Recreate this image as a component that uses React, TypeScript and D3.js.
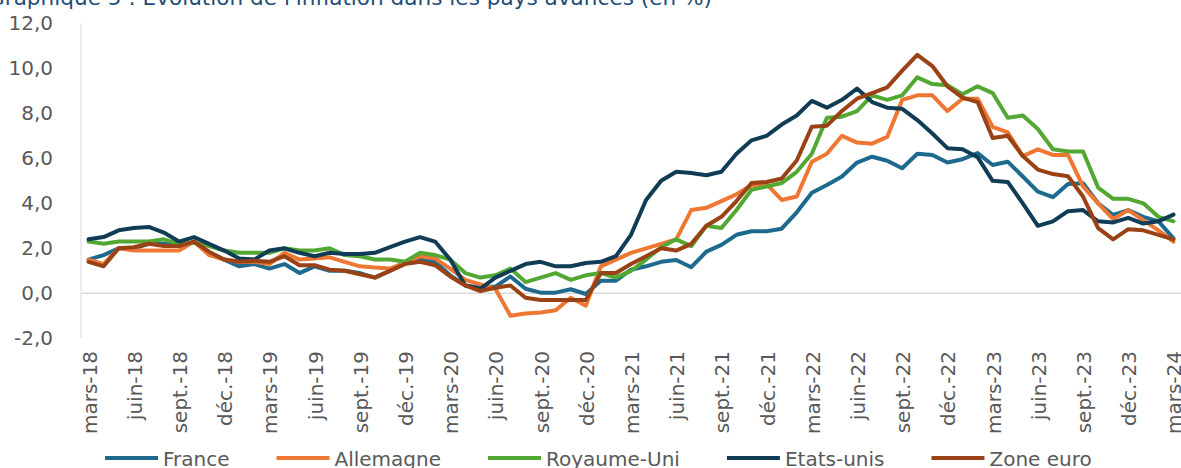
import * as d3 from 'd3'
import { useEffect, useRef } from "react";

// monthly observations, mars 2018 -> mars 2024
const months = d3.timeMonth.range(new Date(2018, 2, 1), new Date(2024, 3, 1));

const tickLabels = [
  "mars-18", "juin-18", "sept.-18", "déc.-18",
  "mars-19", "juin-19", "sept.-19", "déc.-19",
  "mars-20", "juin-20", "sept.-20", "déc.-20",
  "mars-21", "juin-21", "sept.-21", "déc.-21",
  "mars-22", "juin-22", "sept.-22", "déc.-22",
  "mars-23", "juin-23", "sept.-23", "déc.-23",
  "mars-24",
];

const yTicks = [-2, 0, 2, 4, 6, 8, 10, 12];

const france = [
  1.5, 1.7, 2.0, 2.0, 2.2, 2.2, 2.1, 2.3, 1.8, 1.5, 1.2, 1.3, 1.1,
  1.3, 0.9, 1.2, 1.0, 1.0, 0.9, 0.7, 1.0, 1.4, 1.5, 1.4, 0.8,
  0.35, 0.25, 0.3, 0.75, 0.2, 0.03, 0.03, 0.18, -0.03, 0.56, 0.56,
  1.05, 1.2, 1.4, 1.48, 1.16, 1.85, 2.15, 2.6, 2.76, 2.76, 2.87, 3.6,
  4.47, 4.81, 5.19, 5.81, 6.07, 5.89, 5.56, 6.2, 6.15, 5.81, 5.96, 6.23,
  5.7, 5.85, 5.19, 4.52, 4.27, 4.86, 4.89, 4.0, 3.48, 3.7, 3.4, 3.2, 2.44,
];

const allemagne = [
  1.5, 1.3, 2.0, 1.9, 1.9, 1.9, 1.9, 2.3, 1.7, 1.5, 1.4, 1.4, 1.3,
  1.8, 1.5, 1.55, 1.6, 1.4, 1.2, 1.15, 1.1, 1.35, 1.65, 1.55, 1.1,
  0.6, 0.4, 0.2, -1.0, -0.9, -0.85, -0.75, -0.2, -0.55, 1.2, 1.5,
  1.8, 2.0, 2.2, 2.4, 3.7, 3.8, 4.1, 4.4, 4.8, 4.85, 4.15, 4.3,
  5.85, 6.2, 7.0, 6.7, 6.65, 6.95, 8.6, 8.8, 8.8, 8.1, 8.65, 8.65,
  7.4, 7.15, 6.1, 6.4, 6.15, 6.15, 4.75, 4.0, 3.3, 3.7, 3.25, 2.8, 2.3,
];

const royaumeUni = [
  2.3, 2.2, 2.3, 2.3, 2.3, 2.4, 2.2, 2.25, 2.1, 1.9, 1.8, 1.8, 1.8,
  2.0, 1.9, 1.9, 2.0, 1.7, 1.65, 1.5, 1.5, 1.4, 1.8, 1.7, 1.5,
  0.9, 0.7, 0.8, 1.1, 0.5, 0.7, 0.9, 0.6, 0.8, 0.9, 0.7,
  1.0, 1.5, 2.05, 2.4, 2.1, 3.0, 2.9, 3.7, 4.6, 4.75, 4.9, 5.4,
  6.2, 7.8, 7.85, 8.1, 8.8, 8.6, 8.8, 9.6, 9.3, 9.25, 8.85, 9.2,
  8.9, 7.8, 7.9, 7.3, 6.4, 6.3, 6.3, 4.7, 4.2, 4.2, 4.0, 3.4, 3.2,
];

const etatsUnis = [
  2.4, 2.5, 2.8, 2.9, 2.95, 2.7, 2.3, 2.5, 2.2, 1.9, 1.55, 1.5, 1.9,
  2.0, 1.8, 1.65, 1.8, 1.75, 1.75, 1.8, 2.05, 2.3, 2.5, 2.3, 1.5,
  0.35, 0.2, 0.7, 1.0, 1.3, 1.4, 1.2, 1.2, 1.35, 1.4, 1.65,
  2.6, 4.15, 5.0, 5.4, 5.35, 5.25, 5.4, 6.2, 6.8, 7.0, 7.5, 7.9,
  8.55, 8.25, 8.6, 9.1, 8.5, 8.25, 8.2, 7.7, 7.1, 6.45, 6.4, 6.05,
  5.0, 4.95, 4.0, 3.0, 3.2, 3.65, 3.7, 3.2, 3.15, 3.35, 3.1, 3.2, 3.5,
];

const zoneEuro = [
  1.4, 1.2, 2.0, 2.05, 2.2, 2.1, 2.1, 2.3, 1.85, 1.5, 1.4, 1.45, 1.4,
  1.65, 1.25, 1.25, 1.05, 1.0, 0.85, 0.7, 1.0, 1.3, 1.4, 1.25, 0.75,
  0.35, 0.1, 0.25, 0.35, -0.2, -0.3, -0.3, -0.3, -0.3, 0.9, 0.9,
  1.3, 1.65, 2.0, 1.9, 2.2, 3.0, 3.4, 4.1, 4.9, 4.95, 5.1, 5.9,
  7.4, 7.45, 8.1, 8.65, 8.9, 9.15, 9.9, 10.6, 10.1, 9.2, 8.7, 8.5,
  6.9, 7.0, 6.1, 5.5, 5.3, 5.2, 4.3, 2.9, 2.4, 2.85, 2.8, 2.6, 2.4,
];

const seriesNames = ["France", "Allemagne", "Royaume-Uni", "Etats-unis", "Zone euro"];
const seriesColors = ["#1D6A8E", "#EE7733", "#52A832", "#103D55", "#9A4215"];
const seriesValues = [france, allemagne, royaumeUni, etatsUnis, zoneEuro];

const FONT = "'DejaVu Sans', Verdana, sans-serif";
const GREY = "#595959";

const Chart = () => {
  const svgRef = useRef(null);

  useEffect(() => {
    document.body.style.margin = "0";
    const svg = d3.select(svgRef.current);
    svg.selectAll("*").remove();
    const width = 1181;

    const x = d3.scaleBand()
      .domain(months.map(d => String(+d)))
      .range([81, width]);
    const cx = (i) => x(String(+months[i])) + x.bandwidth() / 2;

    const y = d3.scaleLinear()
      .domain([-2, 12])
      .range([338.3, 23.3]);

    // title (cut at top/left, as in the source)
    svg.append("text")
      .attr("x", 712)
      .attr("y", 5)
      .attr("text-anchor", "end")
      .attr("font-family", FONT)
      .attr("font-size", 21.6)
      .attr("fill", "#1F4E79")
      .text("Graphique 5 : Évolution de l'inflation dans les pays avancés (en %)");

    // axes lines
    svg.append("line")
      .attr("x1", 81).attr("x2", 81)
      .attr("y1", y(12)).attr("y2", y(-2))
      .attr("stroke", "#D9D9D9").attr("stroke-width", 1);
    svg.append("line")
      .attr("x1", 81).attr("x2", width)
      .attr("y1", y(0)).attr("y2", y(0))
      .attr("stroke", "#D9D9D9").attr("stroke-width", 1.5);

    // y tick labels
    svg.append("g")
      .selectAll("text")
      .data(yTicks)
      .enter()
      .append("text")
      .attr("x", 53)
      .attr("y", d => y(d))
      .attr("dy", "0.35em")
      .attr("text-anchor", "end")
      .attr("font-family", FONT)
      .attr("font-size", 20)
      .attr("fill", GREY)
      .text(d => d.toFixed(1).replace(".", ","));

    // x tick labels, one every 3 months
    svg.append("g")
      .selectAll("text")
      .data(tickLabels)
      .enter()
      .append("text")
      .attr("transform", (d, k) => `translate(${cx(k * 3) + 1},351) rotate(-90)`)
      .attr("dy", "0.35em")
      .attr("text-anchor", "end")
      .attr("font-family", FONT)
      .attr("font-size", 20)
      .attr("fill", GREY)
      .text(d => d);

    // lines
    const line = d3.line()
      .x((d, i) => cx(i))
      .y(d => y(d));

    svg.append("g")
      .selectAll("path")
      .data(seriesValues)
      .enter()
      .append("path")
      .attr("d", d => line(d))
      .attr("fill", "none")
      .attr("stroke", (d, k) => seriesColors[k])
      .attr("stroke-width", 4)
      .attr("stroke-linejoin", "round")
      .attr("stroke-linecap", "round");

    // legend
    const legend = svg.append("g");
    let lx = 105;
    seriesNames.forEach((name, k) => {
      legend.append("line")
        .attr("x1", lx).attr("x2", lx + 53)
        .attr("y1", 458).attr("y2", 458)
        .attr("stroke", seriesColors[k])
        .attr("stroke-width", 4);
      const t = legend.append("text")
        .attr("x", lx + 58)
        .attr("y", 466)
        .attr("font-family", FONT)
        .attr("font-size", 20)
        .attr("fill", GREY)
        .text(name);
      lx = lx + 58 + t.node().getComputedTextLength() + 47;
    });
  }, []);

  return (
    <svg
      ref={svgRef}
      width={1181}
      height={468}
      style={{ position: "absolute", left: 0, top: 0, background: "white" }}
    />
  );
};

export default function App() {
  return <Chart />;
}
